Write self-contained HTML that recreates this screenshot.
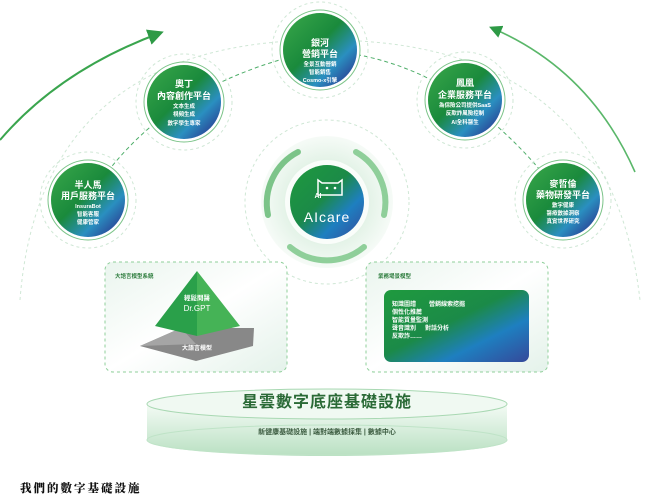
<!DOCTYPE html>
<html><head><meta charset="utf-8"><style>
body{margin:0;width:665px;height:504px;background:#fff;overflow:hidden;font-family:"Liberation Sans","Noto Sans CJK TC",sans-serif}
svg{position:absolute;left:0;top:0}
.t{fill:#fff;font-weight:bold;text-anchor:middle;font-family:"Liberation Sans","Noto Sans CJK TC",sans-serif}
</style></head><body>
<svg width="665" height="504" viewBox="0 0 665 504">
<defs>
<linearGradient id="g" x1="0" y1="0" x2="1" y2="1">
<stop offset="0" stop-color="#3aa84a"/><stop offset="0.45" stop-color="#1a8a3c"/><stop offset="0.7" stop-color="#2a8fc0"/><stop offset="0.85" stop-color="#2a56a0"/><stop offset="1" stop-color="#2e4a98"/></linearGradient>
<linearGradient id="g2" x1="0" y1="0" x2="1" y2="1">
<stop offset="0" stop-color="#1f9a3e"/><stop offset="0.45" stop-color="#1b8a48"/><stop offset="0.7" stop-color="#1e7fc0"/><stop offset="1" stop-color="#35499a"/></linearGradient>
<radialGradient id="glow"><stop offset="0.6" stop-color="#e2f2e6"/><stop offset="1" stop-color="#f6fbf7"/></radialGradient>
<linearGradient id="box" x1="0" y1="0" x2="1" y2="1"><stop offset="0" stop-color="#eaf5ee"/><stop offset="0.5" stop-color="#fff"/><stop offset="1" stop-color="#e4f2ea"/></linearGradient>
<linearGradient id="plat" x1="0" y1="0" x2="0" y2="1"><stop offset="0" stop-color="#f4fbf5"/><stop offset="1" stop-color="#b9e0c2"/></linearGradient>
<marker id="ah" markerWidth="8" markerHeight="8" refX="6" refY="4" orient="auto"><path d="M0,0 L8,4 L0,8 z" fill="#2e9a46"/></marker>
</defs>
<path d="M0,140 Q60,70 160,33" fill="none" stroke="#3aa54e" stroke-width="2" marker-end="url(#ah)"/>
<path d="M635,172 Q590,70 492,28" fill="none" stroke="#5ab76a" stroke-width="1.6" marker-end="url(#ah)"/>
<path d="M20,300 Q40,40 325,40 Q610,40 640,300" fill="none" stroke="#cfe7d5" stroke-width="1" stroke-dasharray="3,3"/>
<path d="M88,200 Q125,140 184,102 Q245,65 320,50 Q400,55 465,100 Q525,145 563,200" fill="none" stroke="#4fae6a" stroke-width="1" stroke-dasharray="4,3"/>
<circle cx="327" cy="202" r="82" fill="none" stroke="#cfe7d5" stroke-dasharray="3,3"/>
<circle cx="327" cy="202" r="66" fill="url(#glow)"/>
<path d="M298,152 A58,58 0 0 0 268,215" fill="none" stroke="#7cc489" stroke-width="6" stroke-linecap="round"/>
<path d="M356,152 A58,58 0 0 1 384,215" fill="none" stroke="#8fcf9a" stroke-width="6" stroke-linecap="round"/>
<path d="M290,247 A58,58 0 0 0 364,247" fill="none" stroke="#8fcf9a" stroke-width="6" stroke-linecap="round"/>
<circle cx="327" cy="202" r="42" fill="#fff" opacity="0.8"/>
<circle cx="327" cy="202" r="37" fill="url(#g2)"/>
<path d="M318,180 L318,195 L342,195 L342,180 L338,183 L322,183 Z" fill="none" stroke="#fff" stroke-width="1.5"/>
<circle cx="327" cy="188" r="1.3" fill="#fff"/><circle cx="335" cy="188" r="1.3" fill="#fff"/>
<text x="318" y="198" class="t" font-size="7">AI</text>
<text x="327" y="222" class="t" font-size="14" style="font-weight:normal;letter-spacing:1px">AIcare</text>
<g>
<circle cx="320" cy="50" r="48" fill="none" stroke="#cfe7d5" stroke-dasharray="3,3"/><circle cx="320" cy="50" r="40" fill="#fff" stroke="#7cc489"/><circle cx="320" cy="50" r="37" fill="url(#g)"/>
<text class="t" x="320" y="46" font-size="9">銀河</text><text class="t" x="320" y="57" font-size="9">營銷平台</text>
<text class="t" x="320" y="66" font-size="5.5">全景互動營銷</text><text class="t" x="320" y="74" font-size="5.5">智能銷售</text><text class="t" x="320" y="82" font-size="5.5">Cosmo-x引擎</text>
<circle cx="184" cy="102" r="48" fill="none" stroke="#cfe7d5" stroke-dasharray="3,3"/><circle cx="184" cy="102" r="40" fill="#fff" stroke="#7cc489"/><circle cx="184" cy="102" r="37" fill="url(#g)"/>
<text class="t" x="184" y="87" font-size="9">奧丁</text><text class="t" x="184" y="99" font-size="9">內容創作平台</text>
<text class="t" x="184" y="108" font-size="5.5">文本生成</text><text class="t" x="184" y="116" font-size="5.5">視頻生成</text><text class="t" x="184" y="125" font-size="5.5">數字學生專家</text>
<circle cx="88" cy="200" r="48" fill="none" stroke="#cfe7d5" stroke-dasharray="3,3"/><circle cx="88" cy="200" r="40" fill="#fff" stroke="#7cc489"/><circle cx="88" cy="200" r="37" fill="url(#g)"/>
<text class="t" x="88" y="188" font-size="9">半人馬</text><text class="t" x="88" y="199" font-size="9">用戶服務平台</text>
<text class="t" x="88" y="208" font-size="5.5">InsuraBot</text><text class="t" x="88" y="216" font-size="5.5">智能客服</text><text class="t" x="88" y="224" font-size="5.5">健康管家</text>
<circle cx="465" cy="100" r="48" fill="none" stroke="#cfe7d5" stroke-dasharray="3,3"/><circle cx="465" cy="100" r="40" fill="#fff" stroke="#7cc489"/><circle cx="465" cy="100" r="37" fill="url(#g)"/>
<text class="t" x="465" y="86" font-size="9">鳳凰</text><text class="t" x="465" y="98" font-size="9">企業服務平台</text>
<text class="t" x="465" y="107" font-size="5.5">為保險公司提供SaaS</text><text class="t" x="465" y="115" font-size="5.5">反欺詐風險控制</text><text class="t" x="465" y="124" font-size="5.5">AI全科醫生</text>
<circle cx="563" cy="200" r="48" fill="none" stroke="#cfe7d5" stroke-dasharray="3,3"/><circle cx="563" cy="200" r="40" fill="#fff" stroke="#7cc489"/><circle cx="563" cy="200" r="37" fill="url(#g)"/>
<text class="t" x="563" y="187" font-size="9">麥哲倫</text><text class="t" x="563" y="198" font-size="9">藥物研發平台</text>
<text class="t" x="563" y="207" font-size="5.5">數字健康</text><text class="t" x="563" y="215" font-size="5.5">醫療數據洞察</text><text class="t" x="563" y="223" font-size="5.5">真實世界研究</text>
</g>
<rect x="105" y="262" width="182" height="110" rx="8" fill="url(#box)" stroke="#8fcf9a" stroke-dasharray="3,3"/>
<rect x="366" y="262" width="182" height="110" rx="8" fill="url(#box)" stroke="#8fcf9a" stroke-dasharray="3,3"/>
<text x="115" y="278" font-size="5.5" fill="#2e7d3e" font-weight="bold">大語言模型系統</text>
<text x="378" y="278" font-size="5.5" fill="#2e7d3e" font-weight="bold">業務場景模型</text>
<polygon points="140,346 181,328 254,328 253,346 196,361" fill="#888"/>
<polygon points="140,346 181,328 196,344" fill="#a5a5a5"/>
<polygon points="197,271 155,326 197,336" fill="#2aa04a"/>
<polygon points="197,271 240,326 197,336" fill="#45b356"/>
<text class="t" x="197" y="300" font-size="6.5">輕鬆問醫</text><text class="t" x="197" y="311" font-size="8" style="font-weight:normal">Dr.GPT</text>
<text class="t" x="197" y="350" font-size="6">大語言模型</text>
<rect x="384" y="290" width="145" height="72" rx="7" fill="url(#g2)"/>
<g fill="#fff" font-size="6" font-weight="bold"><text x="392" y="306">知識圖譜</text><text x="429" y="306">營銷線索挖掘</text><text x="392" y="314">個性化推薦</text><text x="392" y="322">智能質量監測</text><text x="392" y="330">聲音識別</text><text x="425" y="330">對話分析</text><text x="392" y="338">反欺詐……</text></g>
<path d="M147,404 L147,440 A180,16 0 0 0 507,440 L507,404 Z" fill="url(#plat)"/>
<ellipse cx="327" cy="404" rx="180" ry="15" fill="#f0f9f2" stroke="#a8d8b2"/>
<ellipse cx="327" cy="440" rx="180" ry="15" fill="none" stroke="#bfe3c7"/>
<text x="327" y="407" text-anchor="middle" font-size="16" font-weight="bold" fill="#2a6a36" letter-spacing="1">星雲數字底座基礎設施</text>
<text x="327" y="434" text-anchor="middle" font-size="7" font-weight="bold" fill="#3a5a3e">新健康基礎設施 | 端對端數據採集 | 數據中心</text>
<text x="20" y="492" font-size="11.5" font-weight="900" fill="#111" letter-spacing="2" style='font-family:"Liberation Serif","Noto Serif CJK SC",serif'>我們的數字基礎設施</text>
</svg>
</body></html>
